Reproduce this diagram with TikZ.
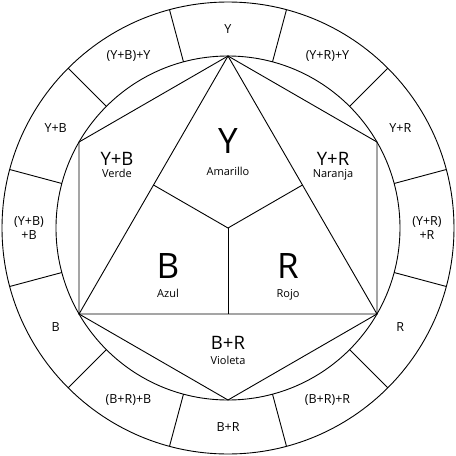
\documentclass[tikz,border=0pt]{standalone}
\usepackage{fontspec}
\setmainfont{Open Sans}
\begin{document}
\begin{tikzpicture}[x=1pt,y=1pt,
  ln/.style={line width=0.9pt,black},
  ring/.style={font=\fontsize{12.5}{14.5}\selectfont,align=center,inner sep=0pt},
  big/.style={font=\fontsize{35}{35}\selectfont,inner sep=0pt,anchor=base},
  mid/.style={font=\fontsize{18.5}{18.5}\selectfont,inner sep=0pt,anchor=base,text depth=0pt},
  small/.style={font=\fontsize{11}{11}\selectfont,inner sep=0pt,anchor=base,text height=7.5pt}]
\useasboundingbox (-228,-228) rectangle (228,228);
\coordinate (c) at (0,0);
% circles
\draw[ln] (c) circle (226);
\draw[ln] (c) circle (172);
% ring dividers
\foreach \a in {15,45,...,345}
  \draw[ln] (\a:172) -- (\a:226);
% hexagon and triangle
\coordinate (h30) at (30:172);
\coordinate (h90) at (90:172);
\coordinate (h150) at (150:172);
\coordinate (h210) at (210:172);
\coordinate (h270) at (270:172);
\coordinate (h330) at (330:172);
\draw[ln] (h30) -- (h90) -- (h150) -- (h210) -- (h270) -- (h330) -- cycle;
\draw[ln] (h90) -- (h210) -- (h330) -- cycle;
\coordinate (m1) at (150:86);
\coordinate (m2) at (30:86);
\coordinate (m3) at (270:86);
\draw[ln] (m1) -- (c) -- (m2);
\draw[ln] (c) -- (m3);
% ring labels
\node[ring] (r90) at (90:199) {Y};
\node[ring] (r60) at (60:199) {(Y+R)+Y};
\node[ring] (r30) at (30:199) {Y+R};
\node[ring] (r0) at (0:199) {(Y+R)\\+R};
\node[ring] (r330) at (330:199) {R};
\node[ring] (r300) at (300:199) {(B+R)+R};
\node[ring] (r270) at (270:199) {B+R};
\node[ring] (r240) at (240:199) {(B+R)+B};
\node[ring] (r210) at (210:199) {B};
\node[ring] (r180) at (180:199) {(Y+B)\\+B};
\node[ring] (r150) at (150:199) {Y+B};
\node[ring] (r120) at (120:199) {(Y+B)+Y};
% inner labels
\node[big] (ty) at (0,74.7) {Y};
\node[small] (tya) at (0,52.3) {Amarillo};
\node[big] (tb) at (-60,-50.3) {B};
\node[small] (tba) at (-60,-69.3) {Azul};
\node[big] (tr) at (60,-50.3) {R};
\node[small] (tra) at (60,-69.3) {Rojo};
\node[mid] (tyb) at (-111,62.8) {Y+B};
\node[small] (tybv) at (-111,50.3) {Verde};
\node[mid] (tyr) at (105,62.8) {Y+R};
\node[small] (tyrn) at (105,50.3) {Naranja};
\node[mid] (tbr) at (0,-121.5) {B+R};
\node[small] (tbrv) at (0,-136.5) {Violeta};
\end{tikzpicture}
\end{document}
